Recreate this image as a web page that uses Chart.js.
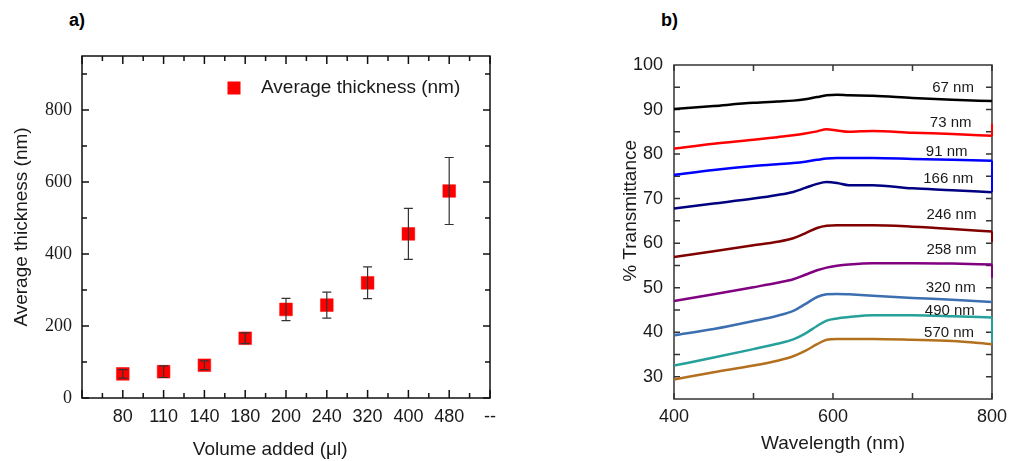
<!DOCTYPE html>
<html>
<head>
<meta charset="utf-8">
<script src="https://cdn.jsdelivr.net/npm/chart.js@4.4.1/dist/chart.umd.min.js"></script>
<style>
body{margin:0;background:#fff;width:1014px;height:461px;position:relative;overflow:hidden;font-family:"Liberation Sans",Arial,sans-serif}
.panel{position:absolute;top:0;height:461px}
#left{left:0;width:520px}
#right{left:600px;width:414px}
.tag{position:absolute;top:10px;font-weight:bold;font-size:18px;color:#000}
</style>
</head>
<body>
<div class="tag" style="left:69px">a)</div>
<div class="tag" style="left:661px">b)</div>
<div class="panel" id="left"><canvas id="thicknessChart"></canvas></div>
<div class="panel" id="right"><canvas id="transChart"></canvas></div>
<script>
// a) thickness vs volume
const volumes=["80","110","140","180","200","240","320","400","480"];
const thickness=[67,73,91,166,246,258,320,456,575];
const thicknessErr=[12,16,12,15,31,36,44,71,93];
const volumeTicks=["",...volumes,"--"];

// b) transmittance spectra
const wavelength=[400,450,500,530,550,565,580,592,605,620,650,700,750,800];
const t67 =[90.1,90.8,91.5,91.8,92.0,92.3,92.8,93.2,93.3,93.2,93.1,92.6,92.2,91.9];
const t73 =[81.2,82.3,83.2,83.8,84.2,84.6,85.1,85.6,85.3,85.0,85.2,84.8,84.5,84.1];
const t91 =[75.3,76.4,77.3,77.7,78.0,78.3,78.7,79.0,79.1,79.1,79.1,78.9,78.7,78.5];
const t166=[67.8,68.9,70.0,70.8,71.5,72.4,73.3,73.7,73.5,73.0,73.0,72.3,71.9,71.4];
const t246=[56.9,58.2,59.5,60.3,61.1,62.2,63.4,63.9,64.0,64.0,64.0,63.7,63.2,62.6];
const t258=[47.0,48.5,50.1,51.1,51.9,52.9,53.9,54.5,54.9,55.2,55.5,55.5,55.4,55.2];
const t320=[39.3,40.7,42.5,43.7,44.8,46.3,47.9,48.5,48.6,48.5,48.2,47.7,47.3,46.8];
const t490=[32.5,34.3,36.2,37.4,38.4,39.7,41.4,42.6,43.1,43.4,43.8,43.8,43.6,43.3];
const t570=[29.4,31.0,32.5,33.6,34.6,35.8,37.3,38.3,38.5,38.5,38.5,38.3,38.0,37.3];
// where a trace jumps at the 800 nm end of the scan
const endJump=[null,86.8,71.5,null,60.2,52.2,null,37.7,null];
const curveNames=["67 nm","73 nm","91 nm","166 nm","246 nm","258 nm","320 nm","490 nm","570 nm"];
const curveColors=["#000000","#ff0000","#0000ff","#000080","#800000","#800080","#3c6fb0","#26a09a","#b3701f"];

Chart.defaults.font.family='"Liberation Sans", Arial, sans-serif';
Chart.defaults.color='#1a1a1a';
Chart.defaults.animation=false;

// box with inward ticks on all four sides
function drawFrame(chart,o){
  const {ctx,chartArea:a,scales:{x,y}}=chart;
  ctx.save();
  ctx.strokeStyle=o.color;
  ctx.lineWidth=o.width;
  ctx.beginPath();
  o.xTicks.forEach(([v,len])=>{
    const px=x.getPixelForValue(v);
    ctx.moveTo(px,a.bottom);ctx.lineTo(px,a.bottom-len);
    ctx.moveTo(px,a.top);ctx.lineTo(px,a.top+len);
  });
  o.yTicks.forEach(([v,len])=>{
    const py=y.getPixelForValue(v);
    ctx.moveTo(a.left,py);ctx.lineTo(a.left+len,py);
    ctx.moveTo(a.right,py);ctx.lineTo(a.right-len,py);
  });
  ctx.stroke();
  ctx.strokeRect(a.left,a.top,a.right-a.left,a.bottom-a.top);
  ctx.restore();
}
const frameTicks={
  id:'frameTicks',
  beforeDatasetsDraw(chart,args,o){if(o.under)drawFrame(chart,o);},
  afterDraw(chart,args,o){if(!o.under)drawFrame(chart,o);}
};

const errorBars={
  id:'errorBars',
  afterDatasetsDraw(chart){
    const {ctx,scales:{y}}=chart;
    const pts=chart.getDatasetMeta(0).data;
    ctx.save();
    ctx.strokeStyle='#333';
    ctx.lineWidth=1.2;
    ctx.beginPath();
    pts.forEach((p,i)=>{
      const hi=y.getPixelForValue(thickness[i]+thicknessErr[i]);
      const lo=y.getPixelForValue(thickness[i]-thicknessErr[i]);
      ctx.moveTo(p.x,hi);ctx.lineTo(p.x,lo);
      ctx.moveTo(p.x-4.5,hi);ctx.lineTo(p.x+4.5,hi);
      ctx.moveTo(p.x-4.5,lo);ctx.lineTo(p.x+4.5,lo);
    });
    ctx.stroke();
    ctx.restore();
  }
};

const boxLegend={
  id:'boxLegend',
  afterDraw(chart){
    const ds=chart.data.datasets[0];
    const ctx=chart.ctx;
    ctx.save();
    ctx.fillStyle=ds.backgroundColor;
    ctx.fillRect(227.5,81.5,13,13);
    ctx.fillStyle='#1a1a1a';
    ctx.font='19px "Liberation Sans", Arial, sans-serif';
    ctx.textBaseline='middle';
    ctx.fillText(ds.label,261,88);
    ctx.restore();
  }
};

const curveLabels={
  id:'curveLabels',
  afterDraw(chart,args,o){
    const {ctx,scales:{x,y}}=chart;
    ctx.save();
    ctx.fillStyle='#1a1a1a';
    ctx.font='15px "Liberation Sans", Arial, sans-serif';
    ctx.textAlign='center';
    ctx.textBaseline='middle';
    o.spots.forEach(([wl,t],i)=>ctx.fillText(curveNames[i],x.getPixelForValue(wl),y.getPixelForValue(t)));
    ctx.restore();
  }
};

const xMarks=[];
for(let i=0;i<=10;i++){xMarks.push([i,8]);if(i<10)xMarks.push([i+0.5,5]);}
const yMarks=[];
for(let v=0;v<=900;v+=100)yMarks.push([v,v%200===0?7:5]);

new Chart(document.getElementById('thicknessChart'),{
  type:'scatter',
  data:{
    datasets:[{
      label:'Average thickness (nm)',
      data:thickness.map((t,i)=>({x:volumes[i],y:t})),
      backgroundColor:'#ff0000',
      borderColor:'#ff0000',
      borderWidth:0.5,
      pointStyle:'rect',
      pointRadius:9,
      pointHoverRadius:9
    }]
  },
  options:{
    responsive:true,
    maintainAspectRatio:false,
    layout:{padding:{top:56,right:30,left:0,bottom:0}},
    plugins:{
      legend:{display:false},
      tooltip:{enabled:false},
      frameTicks:{color:'#111',width:1.5,xTicks:xMarks,yTicks:yMarks}
    },
    scales:{
      x:{
        type:'category',
        labels:volumeTicks,
        offset:false,
        grid:{display:false,drawTicks:false},
        border:{display:false},
        ticks:{autoSkip:false,maxRotation:0,padding:8,font:{size:18},color:'#1a1a1a'},
        title:{display:true,text:'Volume added (\u03bcl)      ',font:{size:19},padding:{top:0,bottom:0},color:'#1a1a1a'},
        afterFit(s){s.height=63;}
      },
      y:{
        min:0,max:950,
        grid:{display:false,drawTicks:false},
        border:{display:false},
        ticks:{stepSize:200,includeBounds:false,padding:10,font:{family:'"Liberation Serif", "Times New Roman", serif',size:18},color:'#1a1a1a'},
        title:{display:true,text:'Average thickness (nm)',font:{size:19},padding:{top:10,bottom:0},color:'#1a1a1a'},
        afterFit(s){s.width=82;}
      }
    }
  },
  plugins:[frameTicks,errorBars,boxLegend]
});

const spectra=[t67,t73,t91,t166,t246,t258,t320,t490,t570];
const traces=spectra.map((s,i)=>({
  label:curveNames[i],
  data:s.map((t,j)=>({x:wavelength[j],y:t})),
  borderColor:curveColors[i],
  borderWidth:2.5,
  pointRadius:0,
  cubicInterpolationMode:'monotone'
}));
spectra.forEach((s,i)=>{
  if(endJump[i]===null)return;
  const last=wavelength[wavelength.length-1];
  traces.push({
    data:[{x:last,y:s[s.length-1]},{x:last,y:endJump[i]}],
    borderColor:curveColors[i],
    borderWidth:2,
    pointRadius:0,
    clip:4
  });
});
const wlMarks=[400,500,600,700,800].map(v=>[v,6]);
const tMarks=[];
for(let v=30;v<=95;v+=5)tMarks.push([v,6]);

new Chart(document.getElementById('transChart'),{
  type:'line',
  data:{datasets:traces},
  options:{
    responsive:true,
    maintainAspectRatio:false,
    layout:{padding:{top:65,right:22,left:0,bottom:0}},
    plugins:{
      legend:{display:false},
      tooltip:{enabled:false},
      frameTicks:{under:true,color:'#333',width:1.5,xTicks:wlMarks,yTicks:tMarks},
      curveLabels:{spots:[[751,94.8],[748,86.9],[743,80.5],[745,74.5],[749,66.3],[749,58.4],[748,50.0],[747,44.8],[746,39.9]]}
    },
    scales:{
      x:{
        type:'linear',
        min:400,max:800,
        grid:{display:false,drawTicks:false},
        border:{display:false},
        ticks:{stepSize:200,padding:7,font:{size:18},color:'#1a1a1a'},
        title:{display:true,text:'Wavelength (nm)',font:{size:19},padding:{top:0,bottom:6},color:'#1a1a1a'},
        afterFit(s){s.height=62;}
      },
      y:{
        min:25,max:100,
        grid:{display:false,drawTicks:false},
        border:{display:false},
        ticks:{stepSize:10,includeBounds:false,padding:11,font:{size:18},color:'#1a1a1a'},
        title:{display:true,text:'        % Transmittance',font:{size:19},padding:{top:19,bottom:0},color:'#1a1a1a'},
        afterFit(s){s.width=74;}
      }
    }
  },
  plugins:[frameTicks,curveLabels]
});
</script>
</body>
</html>
